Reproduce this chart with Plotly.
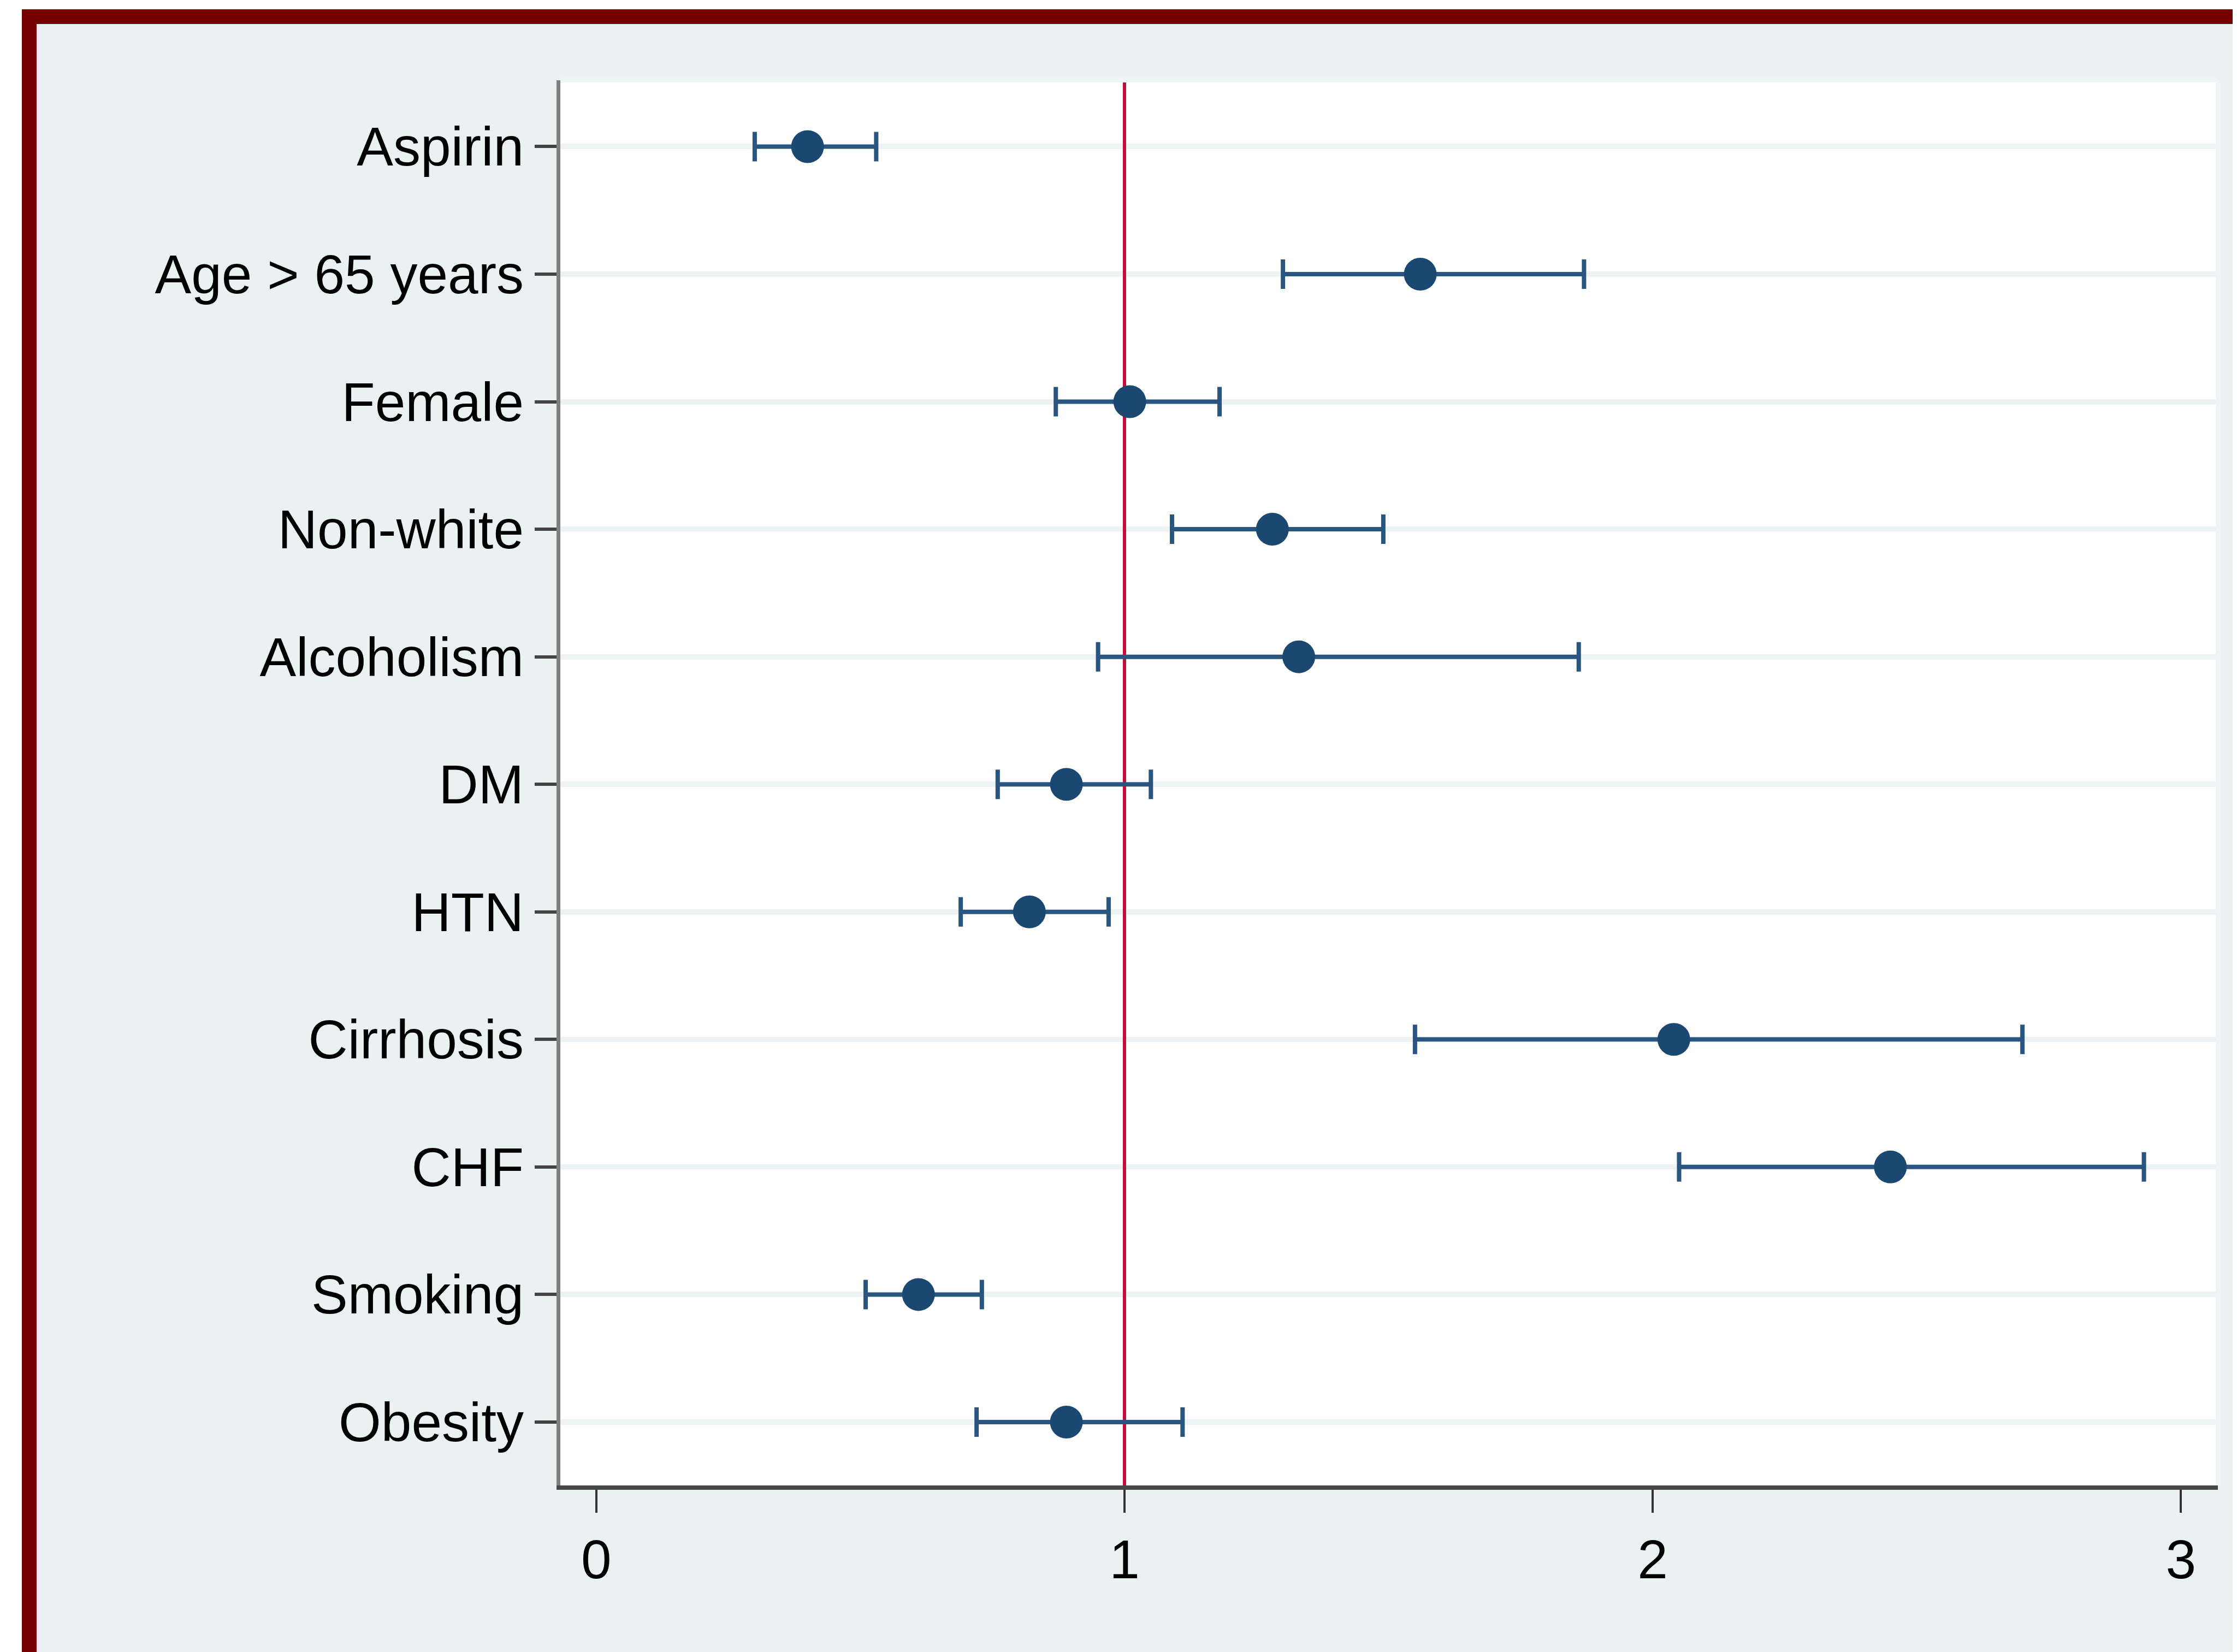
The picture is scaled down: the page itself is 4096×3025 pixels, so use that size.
import plotly.graph_objects as go

# ---------------- data ----------------
categories = ["Aspirin", "Age > 65 years", "Female", "Non-white", "Alcoholism",
              "DM", "HTN", "Cirrhosis", "CHF", "Smoking", "Obesity"]
estimate = [0.40, 1.56, 1.01, 1.28, 1.33, 0.89, 0.82, 2.04, 2.45, 0.61, 0.89]
ci_low = [0.30, 1.30, 0.87, 1.09, 0.95, 0.76, 0.69, 1.55, 2.05, 0.51, 0.72]
ci_high = [0.53, 1.87, 1.18, 1.49, 1.86, 1.05, 0.97, 2.70, 2.93, 0.73, 1.11]
x_ticks = [0, 1, 2, 3]
reference_value = 1

# ---------------- layout geometry ----------------
# the page body has an 8px default margin, so the figure is offset by it
OFF = 8
FIG_W, FIG_H = 4096 - OFF, 3025 - OFF
PLOT_L, PLOT_R, PLOT_T, PLOT_B = 1026 - OFF, 4061 - OFF, 147 - OFF, 2720 - OFF
PW, PH = PLOT_R - PLOT_L, PLOT_B - PLOT_T
X_RANGE = [-0.068, 3.07]
Y_RANGE = [0.503, 11.52]


def px(xp):
    return (xp - OFF - PLOT_L) / PW


def py(yp):
    return (PLOT_B - (yp - OFF)) / PH


n = len(categories)
ypos = [n - i for i in range(n)]

marker_color = "#1b4870"
bar_color = "#2a557e"
font_family = "Liberation Sans, Arial, Helvetica, sans-serif"

fig = go.Figure()
# reference line at 1 (drawn first: above gridlines, below the estimates)
fig.add_trace(go.Scatter(
    x=[reference_value, reference_value],
    y=Y_RANGE,
    mode="lines",
    line=dict(color="#c8083a", width=6),
    showlegend=False,
    hoverinfo="skip",
    cliponaxis=True,
))
fig.add_trace(go.Scatter(
    x=estimate,
    y=ypos,
    mode="markers",
    marker=dict(size=60, color=marker_color, line=dict(width=0)),
    error_x=dict(
        type="data",
        symmetric=False,
        array=[h - e for h, e in zip(ci_high, estimate)],
        arrayminus=[e - l for e, l in zip(estimate, ci_low)],
        color=bar_color,
        thickness=8,
        width=27,
    ),
    showlegend=False,
    hoverinfo="skip",
))

shapes = []
# faint plot border (top and right)
shapes.append(dict(type="line", xref="paper", yref="paper", x0=0, x1=1, y0=1, y1=1,
                   line=dict(color="#eff5f6", width=8), layer="above"))
shapes.append(dict(type="line", xref="paper", yref="paper", x0=1, x1=1, y0=0, y1=1,
                   line=dict(color="#eff5f6", width=8), layer="above"))
# outer frame: white margin + dark red border (top and left), page coordinates
frame = [
    (0, 4096, 0, 17, "#ffffff"),
    (0, 40, 0, 3025, "#ffffff"),
    (40, 4096, 17, 44, "#750000"),
    (40, 67, 17, 3025, "#750000"),
]
for x0, x1, y0, y1, col in frame:
    shapes.append(dict(type="rect", xref="paper", yref="paper",
                       x0=px(x0), x1=px(x1), y0=py(y1), y1=py(y0),
                       fillcolor=col, line=dict(width=0), layer="above"))

fig.update_layout(
    width=FIG_W, height=FIG_H, autosize=False,
    margin=dict(l=PLOT_L, r=FIG_W - PLOT_R, t=PLOT_T, b=FIG_H - PLOT_B, pad=0),
    paper_bgcolor="#e9f1f3",
    plot_bgcolor="#ffffff",
    font=dict(family=font_family, size=100, color="#000000"),
    shapes=shapes,
    xaxis=dict(
        range=X_RANGE,
        tickvals=x_ticks,
        ticktext=[str(t) for t in x_ticks],
        showgrid=False,
        zeroline=False,
        showline=True,
        linecolor="#454545",
        linewidth=8,
        ticks="outside",
        ticklen=42,
        tickwidth=4,
        tickcolor="#333333",
        tickfont=dict(size=100, color="#000000"),
    ),
    yaxis=dict(
        range=Y_RANGE,
        tickvals=ypos,
        ticktext=categories,
        showgrid=True,
        gridcolor="#edf3f5",
        gridwidth=10,
        zeroline=False,
        showline=True,
        linecolor="#7f7f7f",
        linewidth=7,
        ticks="outside",
        ticklen=40,
        tickwidth=6,
        tickcolor="#444444",
        tickfont=dict(size=100, color="#000000"),
    ),
)

fig.write_html("out.html")
